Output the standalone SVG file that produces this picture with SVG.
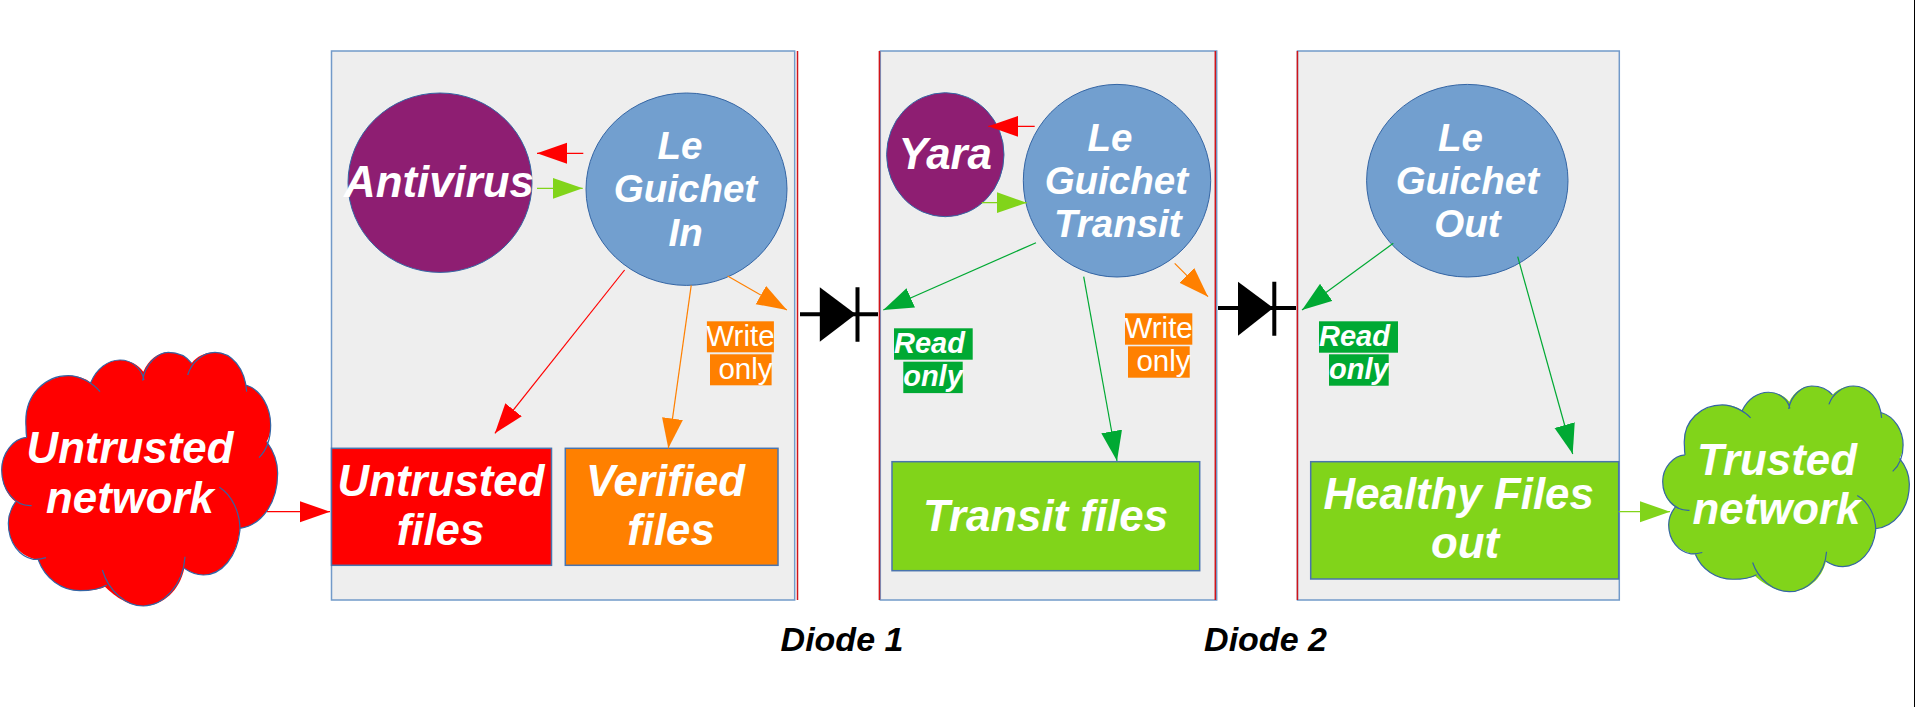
<svg xmlns="http://www.w3.org/2000/svg" xmlns:xlink="http://www.w3.org/1999/xlink" width="1915" height="707" viewBox="0 0 1915 707">
<style>
text{font-family:"Liberation Sans",Arial,sans-serif;text-anchor:middle;fill:#fff}
.t{font-size:43.8px;font-weight:bold;font-style:italic}
.g{font-size:38.5px;font-weight:bold;font-style:italic}
.d{font-size:34px;font-weight:bold;font-style:italic;fill:#000}
.w{font-size:29.5px;font-weight:normal}
.r{font-size:29px;font-weight:bold;font-style:italic}
.panel{fill:#eeeeee;stroke:#729ac9;stroke-width:1.5}
.box{stroke:#4a74ad;stroke-width:1.5}
.ell{stroke:#3465a4;stroke-width:1}
.blue{fill:#729fcf}.purple{fill:#8e1e72}
.red{fill:#ff0000}.orange{fill:#ff8000}.green{fill:#81d41a}.dgreen{fill:#00a933}
.edge{stroke:#d0141a;stroke-width:1.5;fill:none}
.cloudfill{stroke:none}
.cloudline{fill:none;stroke:#3465a4;stroke-width:1.2;vector-effect:non-scaling-stroke}
.c{fill:none;stroke-width:1.2}
.cr{stroke:#ff0000;marker-end:url(#ar)}
.co{stroke:#ff8000;marker-end:url(#ao)}
.cg{stroke:#81d41a;marker-end:url(#ag)}
.cd{stroke:#00a933;marker-end:url(#ad)}
.dl{stroke:#000;stroke-width:4;fill:none}
</style>
<defs>
<marker id="ar" markerUnits="userSpaceOnUse" markerWidth="30" markerHeight="22" refX="30" refY="11" orient="auto"><path d="M0,0.5L30,11L0,21.5Z" fill="#ff0000"/></marker>
<marker id="ao" markerUnits="userSpaceOnUse" markerWidth="30" markerHeight="22" refX="30" refY="11" orient="auto"><path d="M0,0.5L30,11L0,21.5Z" fill="#ff8000"/></marker>
<marker id="ag" markerUnits="userSpaceOnUse" markerWidth="30" markerHeight="22" refX="30" refY="11" orient="auto"><path d="M0,0.5L30,11L0,21.5Z" fill="#81d41a"/></marker>
<marker id="ad" markerUnits="userSpaceOnUse" markerWidth="30" markerHeight="22" refX="30" refY="11" orient="auto"><path d="M0,0.5L30,11L0,21.5Z" fill="#00a933"/></marker>
<path id="cloudShape" class="cloudfill" d="M78,290C70,190 140,137 205,137C235,137 258,145 272,158C290,115 325,90 360,90C390,90 415,105 430,125C445,90 475,67 505,67C535,67 560,80 575,100C590,80 615,67 645,67C695,67 730,115 738,165C785,180 812,235 812,285C812,305 808,320 800,335C822,365 833,395 833,430C833,520 785,585 720,595C712,680 665,735 610,735C590,735 570,727 553,715C540,780 490,828 430,828C380,828 335,790 315,770C295,780 265,782 240,782C185,782 135,745 115,690C60,680 25,640 25,580C25,555 33,535 47,515C20,495 5,460 5,420C5,370 40,325 80,322C78,310 78,300 78,290Z"/>
<path id="cloudLines" class="cloudline" d="M80,322C78,310 78,300 78,290C70,190 140,137 205,137C240,137 280,160 300,185M272,158C290,115 325,90 360,90C395,90 425,115 432,150M428,152C435,100 475,67 505,67C535,67 560,80 575,100M563,135C575,95 610,67 645,67C695,67 735,115 740,185M738,165C785,180 812,235 812,285C812,325 800,360 777,383M800,335C822,365 833,395 833,430C833,520 785,585 720,595M658,472C695,495 720,545 720,600C712,680 665,735 610,735C590,735 570,727 553,715M555,680C550,765 490,828 430,828C375,828 325,780 307,720M320,765C295,780 265,782 240,782C185,782 135,745 115,690M138,683C125,687 110,689 100,688C60,680 25,640 25,580C25,555 33,535 47,515M95,527C45,530 5,480 5,420C5,370 40,325 80,322"/>
</defs>
<rect width="1915" height="707" fill="#ffffff"/>
<rect x="1914" y="0" width="1" height="707" fill="#000000"/>

<g id="panel-in"><rect class="panel" x="331.5" y="51" width="463.2" height="549"/><path class="edge" d="M797.5,51V600"/></g>
<g id="panel-transit"><rect class="panel" x="880.3" y="51" width="336.4" height="549"/><path class="edge" d="M879.4,51V600M1215.3,51V600"/></g>
<g id="panel-out"><rect class="panel" x="1297.5" y="51" width="321.8" height="549"/><path class="edge" d="M1297.4,51V600"/></g>

<g id="untrusted-network">
<g transform="translate(0,330) scale(.33333)" class="red"><use xlink:href="#cloudShape" href="#cloudShape"/><use xlink:href="#cloudLines" href="#cloudLines"/></g>
<text class="t" x="130" y="463.3">Untrusted</text><text class="t" x="130" y="512.7">network</text>
</g>
<g id="trusted-network">
<g transform="translate(1661.2,367.9) scale(.2979,.2703)" class="green"><use xlink:href="#cloudShape" href="#cloudShape"/><use xlink:href="#cloudLines" href="#cloudLines"/></g>
<text class="t" x="1777" y="475">Trusted</text><text class="t" x="1776.5" y="524">network</text>
</g>

<g id="antivirus"><ellipse class="ell purple" cx="440" cy="182.7" rx="92" ry="89.7"/><text class="t" x="439" y="196.7">Antivirus</text></g>
<g id="guichet-in"><ellipse class="ell blue" cx="686.5" cy="189.2" rx="100.5" ry="96.2"/><text class="g" x="680" y="159">Le</text><text class="g" x="685.5" y="202">Guichet</text><text class="g" x="685.7" y="245.5">In</text></g>
<g id="yara"><ellipse class="ell purple" cx="945.3" cy="154.7" rx="58.7" ry="62"/><text class="t" x="945.3" y="169.3">Yara</text></g>
<g id="guichet-transit"><ellipse class="ell blue" cx="1117" cy="180.7" rx="93.7" ry="96.3"/><text class="g" x="1110" y="151">Le</text><text class="g" x="1116.3" y="193.7">Guichet</text><text class="g" x="1117.8" y="237">Transit</text></g>
<g id="guichet-out"><ellipse class="ell blue" cx="1467.3" cy="180.7" rx="100.7" ry="96.3"/><text class="g" x="1460.5" y="151">Le</text><text class="g" x="1467.3" y="193.7">Guichet</text><text class="g" x="1467.5" y="237">Out</text></g>

<g id="untrusted-files"><rect class="box red" x="331.5" y="448.3" width="220" height="117"/><text class="t" x="441" y="496">Untrusted</text><text class="t" x="440.5" y="545">files</text></g>
<g id="verified-files"><rect class="box orange" x="565.3" y="448.3" width="212.7" height="117"/><text class="t" x="665.5" y="496">Verified</text><text class="t" x="671" y="545">files</text></g>
<g id="transit-files"><rect class="box green" x="892" y="461.7" width="307.7" height="109"/><text class="t" x="1045.5" y="530.7">Transit files</text></g>
<g id="healthy-files"><rect class="box green" x="1310.7" y="461.7" width="308" height="117.3"/><text class="t" x="1458.7" y="509.3">Healthy Files</text><text class="t" x="1465" y="558.3">out</text></g>

<g id="write-only-1"><rect class="orange" x="706.9" y="321.3" width="67" height="31"/><rect class="orange" x="710" y="354.3" width="61.6" height="31"/><text class="w" x="740.4" y="346">Write</text><text class="w" x="745.5" y="379">only</text></g>
<g id="write-only-2"><rect class="orange" x="1125" y="313.3" width="67.3" height="31.4"/><rect class="orange" x="1128" y="346.3" width="61.7" height="31.4"/><text class="w" x="1158.6" y="338">Write</text><text class="w" x="1163.5" y="371">only</text></g>
<g id="read-only-1"><rect class="dgreen" x="894" y="328.3" width="78.7" height="31.4"/><rect class="dgreen" x="903.3" y="361.7" width="59.4" height="31.4"/><text class="r" x="929.5" y="353.3">Read</text><text class="r" x="933" y="386">only</text></g>
<g id="read-only-2"><rect class="dgreen" x="1319" y="321.3" width="79" height="31.4"/><rect class="dgreen" x="1329" y="354.3" width="59.7" height="31.4"/><text class="r" x="1354.5" y="346.3">Read</text><text class="r" x="1358.8" y="379">only</text></g>

<g id="diode-1"><path class="dl" d="M800,314.3H878M857.5,287.3V341.7"/><path d="M819.8,287.3L855.8,314.3L819.8,341.7Z" fill="#000"/><text class="d" x="842" y="650.7">Diode 1</text></g>
<g id="diode-2"><path class="dl" d="M1218,308H1296M1274.3,281.7V335.7"/><path d="M1238,281.7L1273.3,308L1238,335.7Z" fill="#000"/><text class="d" x="1265.5" y="650.7">Diode 2</text></g>

<g id="connectors">
<path class="c cr" d="M267,511.7H330"/>
<path class="c cr" d="M583.3,153.3H537"/>
<path class="c cg" d="M537,188.3H582.7"/>
<path class="c cr" d="M624.6,270L494.9,433.3"/>
<path class="c co" d="M691.2,285.3L668.3,448.3"/>
<path class="c co" d="M727.6,276L786.9,310"/>
<path class="c cr" d="M1034.7,126.3H988.3"/>
<path class="c cg" d="M981.7,202.7H1026.7"/>
<path class="c cd" d="M1036,242.7L883.3,310"/>
<path class="c cd" d="M1083.7,276.7L1117,461"/>
<path class="c co" d="M1174.7,263.3L1208,296.7"/>
<path class="c cd" d="M1393.3,243.3L1302,310"/>
<path class="c cd" d="M1517.7,256.7L1572.7,454"/>
<path class="c cg" d="M1618.7,511.7H1670"/>
</g>
</svg>
